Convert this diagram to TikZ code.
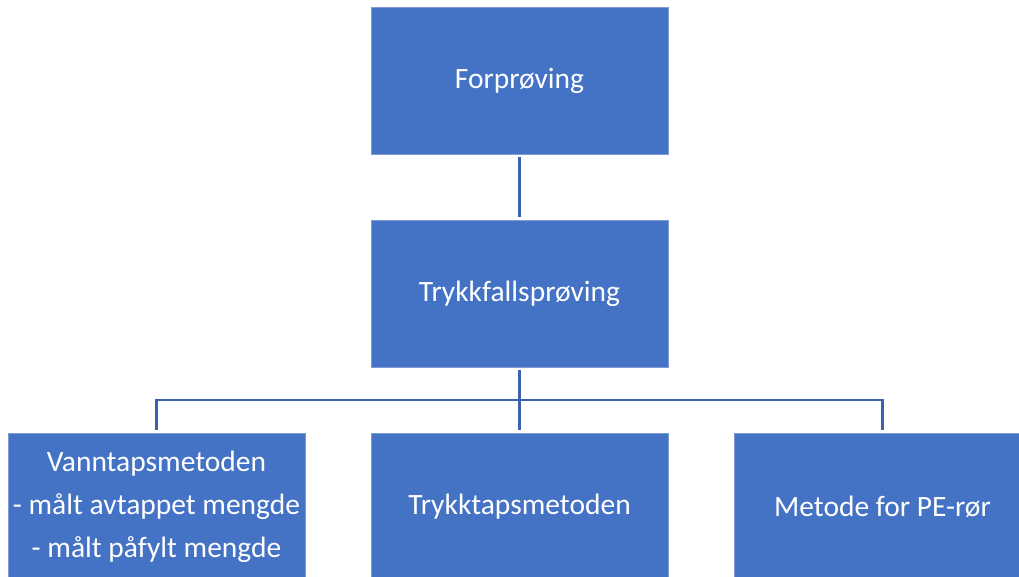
\documentclass[tikz,border=0pt]{standalone}
\usepackage{fontspec}
\setmainfont{Carlito}
\usepackage{xcolor}
\usetikzlibrary{calc}
\definecolor{boxblue}{HTML}{4472C4}
\definecolor{boxedge}{HTML}{7E9BD6}
\definecolor{lineblue}{HTML}{3B62AD}

\begin{document}
\begin{tikzpicture}[x=1pt,y=-1pt]
        \tikzstyle{box}=[draw=boxedge,fill=boxblue,line width=0.8pt,minimum width=297pt,minimum height=147pt,inner sep=0pt,text=white,align=center,font=\fontsize{29.5}{43}\selectfont]
        \tikzstyle{conn}=[draw=lineblue,line width=2.2pt,shorten <=3pt,shorten >=3pt]
            \fill[white] (0,0) rectangle (1019,577);
            \useasboundingbox (0,0) rectangle (1019,577);
            \clip (0,0) rectangle (1019,577);

            \node[box] (Forp) at (519.5,80.5) {Forprøving};
            \node[box] (Trykkf) at ($(Forp)+(0,213)$) {Trykkfallsprøving};
            \node[box] (Trykkt) at ($(Trykkf)+(0,213)$) {Trykktapsmetoden};
            \node[box] (Vann) at ($(Trykkt)+(-363,0)$) {Vanntapsmetoden\\- målt avtappet mengde\\- målt påfylt mengde};
            \node[box] (PE) at ($(Trykkt)+(363,0)$) {Metode for PE-rør};

            \draw[conn] (Forp.south) -- (Trykkf.north);
            \draw[conn] (Trykkf.south) -- (Trykkt.north);
            \draw[conn] (Vann.north) -- ++(0,-33) -| (PE.north);

        \end{tikzpicture}
\end{document}
